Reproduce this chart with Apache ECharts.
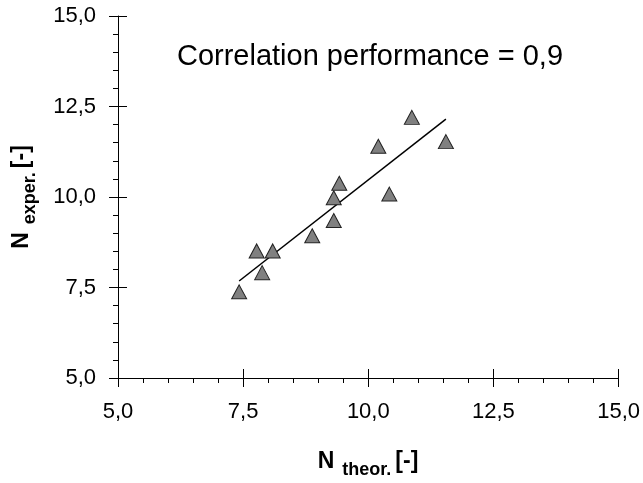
<!DOCTYPE html>
<html><head><meta charset="utf-8">
<script src="https://cdn.jsdelivr.net/npm/echarts@6/dist/echarts.min.js"></script>
<style>html,body{margin:0;padding:0;background:#fff}#c{width:643px;height:483px}</style>
</head><body><div id="c"></div>
<script>
const nTheor = [7.42, 7.77, 8.09, 7.88, 8.88, 9.31, 9.31, 9.42, 10.42, 10.20, 10.87, 11.55];
const nExper = [7.38, 8.51, 8.51, 7.91, 8.93, 9.35, 9.98, 10.38, 10.08, 11.40, 12.20, 11.53];
const fitX = [7.42, 11.55];
const fitY = [7.68, 12.15];
const annotation = 'Correlation performance = 0,9';
const xTitle = ['N', 'theor.', '[-]'];
const yTitle = ['N', 'exper.', '[-]'];

const fmt = v => v.toFixed(1).replace('.', ',');
const font = 'Liberation Sans, Arial, sans-serif';
const chart = echarts.init(document.getElementById('c'));
const axisCommon = {
  type: 'value', min: 5, max: 15, interval: 2.5,
  axisLine: { lineStyle: { color: '#000', width: 1 } },
  splitLine: { show: false }
};
const titleRich = {
  b: { fontFamily: font, fontSize: 23, fontWeight: 'bold', fill: '#000', verticalAlign: 'bottom' },
  s: { fontFamily: font, fontSize: 18, fontWeight: 'bold', fill: '#000', verticalAlign: 'bottom', padding: [0, 4, -6, 8] }
};
const titleText = t => '{b|' + t[0] + '}{s|' + t[1] + '}{b|' + t[2] + '}';
chart.setOption({
  animation: false,
  grid: { left: 118, right: 23, top: 16, bottom: 105, containLabel: false },
  xAxis: [
    Object.assign({}, axisCommon, {
      axisTick: { length: 9, lineStyle: { color: '#000' } },
      minorTick: { show: true, splitNumber: 5, length: 5, lineStyle: { color: '#000' } },
      axisLabel: { formatter: fmt, fontFamily: font, fontSize: 22, color: '#000', margin: 23 }
    }),
    Object.assign({}, axisCommon, {
      position: 'bottom', axisLine: { show: false },
      axisTick: { inside: true, length: 9, lineStyle: { color: '#000' } },
      axisLabel: { show: false }
    })
  ],
  yAxis: [
    Object.assign({}, axisCommon, {
      axisTick: { length: 9, lineStyle: { color: '#000' } },
      minorTick: { show: true, splitNumber: 5, length: 5, lineStyle: { color: '#000' } },
      axisLabel: { formatter: fmt, fontFamily: font, fontSize: 22, color: '#000', margin: 22 }
    }),
    Object.assign({}, axisCommon, {
      position: 'left', axisLine: { show: false },
      axisTick: { inside: true, length: 9, lineStyle: { color: '#000' } },
      axisLabel: { show: false }
    })
  ],
  series: [
    {
      type: 'line', data: fitX.map((x, i) => [x, fitY[i]]),
      symbol: 'none', lineStyle: { color: '#000', width: 1.5 }, z: 3
    },
    {
      type: 'scatter', data: nTheor.map((x, i) => [x, nExper[i]]),
      symbol: 'triangle', symbolSize: [15, 14],
      itemStyle: { color: '#808080', borderColor: '#222', borderWidth: 1, opacity: 1 }, z: 4
    }
  ],
  graphic: [
    { type: 'text', x: 370, y: 57, style: { text: annotation, font: '29px ' + font, fill: '#000', align: 'center', verticalAlign: 'middle' } },
    { type: 'text', x: 368, y: 462, style: {
        text: titleText(xTitle), align: 'center', verticalAlign: 'middle', rich: titleRich
      } },
    { type: 'text', x: 22, y: 197, rotation: Math.PI / 2, style: {
        text: titleText(yTitle), align: 'center', verticalAlign: 'middle', rich: titleRich
      } }
  ]
});
</script></body></html>
